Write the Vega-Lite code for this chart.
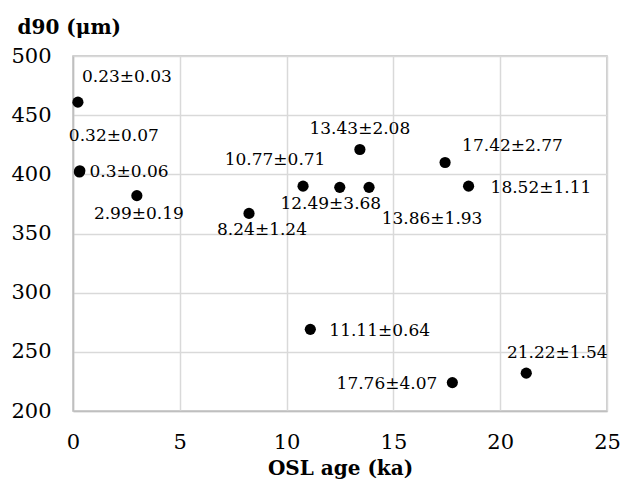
{
  "$schema": "https://vega.github.io/schema/vega-lite/v6.json",
  "width": 534,
  "height": 355,
  "autosize": {"type": "none"},
  "padding": {"left": 73, "top": 56, "right": 15, "bottom": 78},
  "background": "white",
  "config": {
    "view": {"stroke": "#bfbfbf", "strokeWidth": 1.5},
    "font": "DejaVu Serif",
    "text": {"font": "DejaVu Serif", "fontSize": 17, "color": "black", "baseline": "middle"}
  },
  "data": {
    "values": [
      {"age": 0.23, "d90": 461, "label": "0.23±0.03"},
      {"age": 0.32, "d90": 403, "label": "0.32±0.07"},
      {"age": 0.3, "d90": 402, "label": "0.3±0.06"},
      {"age": 2.99, "d90": 382, "label": "2.99±0.19"},
      {"age": 8.24, "d90": 367, "label": "8.24±1.24"},
      {"age": 10.77, "d90": 390, "label": "10.77±0.71"},
      {"age": 12.49, "d90": 389, "label": "12.49±3.68"},
      {"age": 13.86, "d90": 389, "label": "13.86±1.93"},
      {"age": 13.43, "d90": 421, "label": "13.43±2.08"},
      {"age": 17.42, "d90": 410, "label": "17.42±2.77"},
      {"age": 18.52, "d90": 390, "label": "18.52±1.11"},
      {"age": 11.11, "d90": 269, "label": "11.11±0.64"},
      {"age": 17.76, "d90": 224, "label": "17.76±4.07"},
      {"age": 21.22, "d90": 232, "label": "21.22±1.54"}
    ]
  },
  "encoding": {
    "x": {
      "field": "age", "type": "quantitative",
      "scale": {"domain": [0, 25], "nice": false, "zero": false},
      "axis": {
        "values": [0, 5, 10, 15, 20, 25],
        "title": "OSL age (ka)",
        "titleFont": "DejaVu Serif", "titleFontSize": 20, "titleFontWeight": "bold", "titleColor": "black",
        "titleX": 267, "titleY": 57, "titleBaseline": "middle", "titleAlign": "center",
        "labelFont": "DejaVu Serif", "labelFontSize": 21, "labelColor": "black", "labelPadding": 20,
        "ticks": false, "domain": true, "domainColor": "#bfbfbf", "domainWidth": 1.5,
        "grid": true, "gridColor": "#d9d9d9", "gridWidth": 1.5, "labelFlush": false
      }
    },
    "y": {
      "field": "d90", "type": "quantitative",
      "scale": {"domain": [200, 500], "nice": false, "zero": false},
      "axis": {
        "values": [200, 250, 300, 350, 400, 450, 500],
        "title": "d90 (μm)",
        "titleFont": "DejaVu Serif", "titleFontSize": 20, "titleFontWeight": "bold", "titleColor": "black",
        "titleAngle": 0, "titleX": -56, "titleY": -29, "titleAlign": "left", "titleBaseline": "middle",
        "labelFont": "DejaVu Serif", "labelFontSize": 21, "labelColor": "black", "labelPadding": 22,
        "ticks": false, "domain": true, "domainColor": "#bfbfbf", "domainWidth": 1.5,
        "grid": true, "gridColor": "#d9d9d9", "gridWidth": 1.5, "labelFlush": false
      }
    }
  },
  "layer": [
    {"mark": {"type": "point", "filled": true, "color": "black", "opacity": 1, "size": 125, "shape": "circle"}},
    {"transform": [{"filter": "datum.age == 0.23"}], "mark": {"type": "text", "dx": 49, "dy": -25}, "encoding": {"text": {"field": "label"}}},
    {"transform": [{"filter": "datum.age == 0.32"}], "mark": {"type": "text", "dx": 34, "dy": -35}, "encoding": {"text": {"field": "label"}}},
    {"transform": [{"filter": "datum.age == 0.3"}], "mark": {"type": "text", "align": "left", "dx": 10, "dy": 0}, "encoding": {"text": {"field": "label"}}},
    {"transform": [{"filter": "datum.age == 2.99"}], "mark": {"type": "text", "dx": 2, "dy": 18}, "encoding": {"text": {"field": "label"}}},
    {"transform": [{"filter": "datum.age == 8.24"}], "mark": {"type": "text", "dx": 13, "dy": 17}, "encoding": {"text": {"field": "label"}}},
    {"transform": [{"filter": "datum.age == 10.77"}], "mark": {"type": "text", "dx": -28, "dy": -26}, "encoding": {"text": {"field": "label"}}},
    {"transform": [{"filter": "datum.age == 12.49"}], "mark": {"type": "text", "dx": -9, "dy": 17}, "encoding": {"text": {"field": "label"}}},
    {"transform": [{"filter": "datum.age == 13.86"}], "mark": {"type": "text", "dx": 63, "dy": 32}, "encoding": {"text": {"field": "label"}}},
    {"transform": [{"filter": "datum.age == 13.43"}], "mark": {"type": "text", "dx": 0, "dy": -20}, "encoding": {"text": {"field": "label"}}},
    {"transform": [{"filter": "datum.age == 17.42"}], "mark": {"type": "text", "align": "left", "dx": 17, "dy": -17}, "encoding": {"text": {"field": "label"}}},
    {"transform": [{"filter": "datum.age == 18.52"}], "mark": {"type": "text", "align": "left", "dx": 22, "dy": 2}, "encoding": {"text": {"field": "label"}}},
    {"transform": [{"filter": "datum.age == 11.11"}], "mark": {"type": "text", "align": "left", "dx": 19, "dy": 2}, "encoding": {"text": {"field": "label"}}},
    {"transform": [{"filter": "datum.age == 17.76"}], "mark": {"type": "text", "align": "right", "dx": -15, "dy": 1}, "encoding": {"text": {"field": "label"}}},
    {"transform": [{"filter": "datum.age == 21.22"}], "mark": {"type": "text", "dx": 31, "dy": -20}, "encoding": {"text": {"field": "label"}}}
  ]
}
